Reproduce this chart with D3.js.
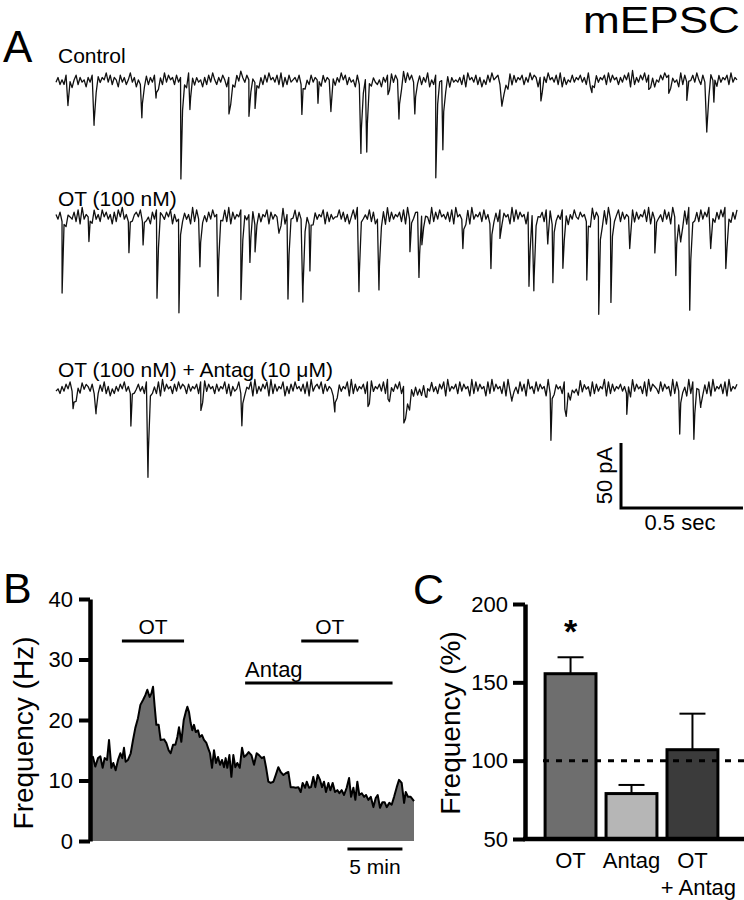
<!DOCTYPE html>
<html>
<head>
<meta charset="utf-8">
<script src="https://cdn.jsdelivr.net/npm/d3@7"></script>
<style>
  body { margin: 0; background: #fff; }
  svg { display: block; }
  text { font-family: "Liberation Sans", Arial, Helvetica, sans-serif; fill: #000; }
</style>
</head>
<body>
<svg id="fig" width="744" height="900"></svg>
<script>
// ---------- data ----------
// panel A: recordings, 2.8 s each
const traceLabels = ["Control", "OT (100 nM)", "OT (100 nM) + Antag (10 \u03bcM)"];
const traceSeconds = 2.8;
// minis as [time s, amplitude pA, decay s (optional)]
const controlEvents = [
  [0.049, 18], [0.156, 35], [0.352, 31], [0.41, 14], [0.512, 78], [0.549, 21],
  [0.709, 28, 0.012], [0.791, 28], [0.816, 20], [1.008, 23], [1.074, 18], [1.127, 19],
  [1.25, 62], [1.274, 55], [1.361, 15], [1.406, 32], [1.471, 28], [1.557, 79],
  [1.586, 59], [1.828, 22, 0.01], [1.988, 18], [2.197, 17], [2.43, 11], [2.512, 14],
  [2.586, 14], [2.668, 42], [2.697, 17]
];
const otEvents = [
  [0.025, 55], [0.135, 19], [0.299, 24], [0.357, 18], [0.414, 68], [0.504, 72],
  [0.59, 42], [0.664, 61], [0.758, 69], [0.795, 35], [0.816, 21], [0.914, 18],
  [0.951, 65], [1.012, 71], [1.041, 36], [1.242, 54], [1.324, 58], [1.451, 25],
  [1.488, 43], [1.5, 23], [1.668, 28], [1.783, 47], [1.82, 22], [1.939, 57],
  [1.959, 54], [2.016, 19], [2.037, 45], [2.078, 45], [2.176, 45], [2.225, 75],
  [2.275, 64], [2.352, 19], [2.455, 26], [2.541, 47], [2.561, 22], [2.598, 79],
  [2.684, 19], [2.746, 47]
];
const antagEvents = [
  [0.07, 17, 0.012], [0.164, 21], [0.307, 25], [0.377, 68], [0.594, 22], [0.762, 32],
  [1.143, 25], [1.279, 19], [1.361, 15], [1.426, 28, 0.025], [1.52, 13], [1.869, 13],
  [2.029, 36], [2.086, 21, 0.02], [2.34, 16], [2.557, 33], [2.615, 37], [2.643, 16]
];
// baseline noise, one digit every 1/340 of the sweep (digit 0..9 -> about -8..+8 pA)
const controlNoise =
  "46353746257364526475" + "37465847365274635846" + "25364736475263847563" +
  "74635284736452637485" + "36475263748596475364" + "52637485647382637456" +
  "47362537465837465273" + "64857364527384657364" + "35264738475639485746" +
  "57364825374658372645" + "46372856473625374856" + "73645283746573648576" +
  "26374856473826354746" + "57463829374657384756" + "36475829364758473625" +
  "47586736452837465748" + "53746285937465738465";
const otNoise =
  "64738265473829465738" + "46385746273859463746" + "75836452748396475826" +
  "34857462938475637485" + "65748392746583746592" + "47365827465839264758" +
  "37485629374658273645" + "58473625849375648372" + "46582937465738294657" +
  "73846529374856473829" + "56473829465738462957" + "38475629384756273846" +
  "65738492756483726485" + "47563829475638294756" + "83746529374658392746" +
  "56384729564738295647" + "38475926374859263748";
const antagNoise =
  "45364758463748576473" + "65748362536475846374" + "57463857463829475637" +
  "48576374657382947563" + "74658372645837465829" + "36475829374658263748" +
  "56473829467583746529" + "37465829374657382946" + "57483926475836472958" +
  "46372958463758294657" + "38475629384756283947" + "56382947563847295638" +
  "47562938475638294756" + "39475628374659283746" + "57463829475638294765" +
  "38475629384756293847" + "56473829465738294657";

// panel B: frequency time course (minutes, Hz)
const bMinutes = [0, 0.27, 0.48, 0.73, 0.94, 1.15, 1.33, 1.55, 1.73, 1.94, 2.12, 2.33, 2.55, 2.76, 2.94, 3.09,
  3.24, 3.45, 3.70, 3.91, 4.12, 4.36, 4.58, 4.82, 5.03, 5.21, 5.42, 5.58, 5.73, 5.88, 6.03, 6.24, 6.42, 6.73,
  6.94, 7.15, 7.33, 7.55, 7.76, 7.94, 8.09, 8.30, 8.52, 8.70, 8.85, 9.00, 9.15, 9.30, 9.45, 9.61, 9.82, 9.97,
  10.18, 10.36, 10.58, 10.73, 10.91, 11.09, 11.27, 11.45, 11.64, 11.82, 12.00, 12.18, 12.33, 12.48, 12.67,
  12.85, 13.03, 13.21, 13.39, 13.61, 13.82, 14.00, 14.21, 14.42, 14.67, 14.91, 15.15, 15.36, 15.61, 15.82,
  16.00, 16.21, 16.42, 16.67, 16.88, 17.12, 17.33, 17.58, 17.79, 18.03, 18.24, 18.48, 18.70, 18.94, 19.15,
  19.33, 19.55, 19.70, 19.91, 20.09, 20.30, 20.48, 20.70, 20.91, 21.09, 21.27, 21.45, 21.67, 21.85, 22.06,
  22.27, 22.48, 22.67, 22.88, 23.09, 23.33, 23.55, 23.73, 23.94, 24.12, 24.30, 24.48, 24.70, 24.91, 25.09,
  25.30, 25.52, 25.76, 25.97, 26.15, 26.36, 26.58, 26.79, 26.97, 27.21, 27.42, 27.64, 27.88, 28.09, 28.33,
  28.55, 28.70, 28.91, 29.15, 29.45];
const bHz = [13.6, 13.9, 12.3, 13.7, 14.0, 12.1, 13.7, 13.4, 16.7, 12.1, 12.9, 11.7, 13.4, 14.5, 13.7, 15.4,
  13.1, 13.4, 14.5, 16.7, 18.7, 20.3, 22.5, 23.3, 24.1, 25.0, 23.8, 24.4, 25.5, 22.2, 19.2, 19.2, 16.7, 16.8,
  16.2, 15.0, 14.5, 15.9, 15.9, 17.2, 18.8, 16.4, 20.0, 21.3, 22.2, 21.3, 19.5, 18.3, 19.2, 18.0, 18.3, 17.2,
  17.5, 16.7, 16.2, 15.4, 14.5, 12.1, 15.0, 12.9, 13.9, 12.6, 13.4, 12.2, 13.7, 12.1, 14.2, 10.6, 14.2, 12.2,
  12.9, 12.1, 15.4, 13.9, 14.2, 14.7, 14.2, 12.6, 14.5, 14.2, 13.7, 13.9, 12.2, 9.8, 9.6, 9.8, 10.9, 12.2,
  11.4, 10.9, 11.2, 11.4, 8.9, 8.9, 8.8, 8.9, 8.1, 9.6, 8.8, 9.8, 8.8, 8.9, 10.6, 8.9, 10.9, 10.1, 8.9, 9.8,
  8.1, 9.6, 8.4, 9.6, 8.1, 8.4, 7.9, 8.4, 7.6, 8.8, 10.4, 7.3, 8.8, 6.8, 9.8, 7.6, 7.9, 7.3, 7.6, 6.8, 7.3,
  5.6, 7.1, 7.6, 5.5, 6.4, 6.4, 5.6, 6.3, 6.0, 7.3, 8.9, 10.1, 9.6, 6.3, 8.1, 7.3, 7.3, 6.6];
const bTicks = [0, 10, 20, 30, 40];
// drug application bars [start min, end min, label, row]
const bDrugs = [[2.9, 8.55, "OT", 1], [19.2, 24.4, "OT", 1], [14.1, 27.5, "Antag", 2]];

// panel C: normalised frequency
const cLabels = [["OT"], ["Antag"], ["OT", "+ Antag"]];
const cMean = [155.5, 79, 107];
const cSem = [10.5, 5.5, 23];
const cFill = ["#6e6e6e", "#b6b6b6", "#3b3b3b"];
const cTicks = [50, 100, 150, 200];

// ---------- drawing ----------
const svg = d3.select("#fig");

const addText = (g, x, y, str, size, anchor) => g.append("text")
  .attr("x", x).attr("y", y)
  .attr("font-size", size)
  .attr("text-anchor", anchor || "start")
  .text(str);

// panel letters + title
addText(svg, 3, 62, "A", 44);
addText(svg, 3, 603, "B", 43);
addText(svg, 413, 604, "C", 43);
addText(svg, 583, 33, "mEPSC", 36).attr("textLength", 157).attr("lengthAdjust", "spacingAndGlyphs");

// ----- A: traces -----
const xT = d3.scaleLinear().domain([0, traceSeconds]).range([56, 739]);
const pxPerPA = 1.3;
const traces = [
  { label: traceLabels[0], noise: controlNoise, events: controlEvents, base: 81, ly: 63 },
  { label: traceLabels[1], noise: otNoise, events: otEvents, base: 218, ly: 206 },
  { label: traceLabels[2], noise: antagNoise, events: antagEvents, base: 390, ly: 377 }
];

function tracePoints(noise, events) {
  const n = noise.length;
  const dt = traceSeconds / n;
  const baseAt = i => (+noise[i] - 4.5) * 1.8;
  const ev = t => d3.sum(events, e => t >= e[0] ? -e[1] * Math.exp(-(t - e[0]) / (e[2] || 0.005)) : 0);
  const pts = [];
  for (let i = 0; i < n; i++) pts.push([i * dt, baseAt(i) + ev(i * dt)]);
  events.forEach(e => {
    const i = Math.min(n - 1, Math.round(e[0] / dt));
    pts.push([e[0], baseAt(i) + ev(e[0])]);
  });
  return pts.sort((a, b) => a[0] - b[0]);
}

traces.forEach(tr => {
  const y = d3.scaleLinear().domain([-100, 20]).range([tr.base + 100 * pxPerPA, tr.base - 20 * pxPerPA]);
  const line = d3.line().x(d => xT(d[0])).y(d => y(d[1]));
  svg.append("path")
    .datum(tracePoints(tr.noise, tr.events))
    .attr("d", line)
    .attr("fill", "none")
    .attr("stroke", "#111")
    .attr("stroke-width", 1.3)
    .attr("stroke-linejoin", "round");
  addText(svg, 58, tr.ly, tr.label, 21);
});

// scale bar 50 pA / 0.5 s
const sbX = 621, sbY = 508;
const sbW = xT(0.5) - xT(0), sbH = 50 * pxPerPA;
svg.append("path")
  .attr("d", `M${sbX},${sbY - sbH}V${sbY}H${sbX + sbW}`)
  .attr("fill", "none").attr("stroke", "#000").attr("stroke-width", 3);
addText(svg, sbX + sbW / 2 - 2, 530, "0.5 sec", 22, "middle");
addText(svg, 0, 0, "50 pA", 22, "middle").attr("transform", `translate(612,${sbY - sbH / 2}) rotate(-90)`);

// ----- B: time course -----
const xB = d3.scaleLinear().domain([0, 29.45]).range([90, 414]);
const yB = d3.scaleLinear().domain([0, 40]).range([841, 599]);
const bData = bMinutes.map((m, i) => [m, bHz[i]]);

svg.append("path")
  .datum(bData)
  .attr("d", d3.area().x(d => xB(d[0])).y0(yB(0)).y1(d => yB(d[1])))
  .attr("fill", "#6e6e6e");
svg.append("path")
  .datum(bData)
  .attr("d", d3.line().x(d => xB(d[0])).y(d => yB(d[1])))
  .attr("fill", "none").attr("stroke", "#000").attr("stroke-width", 2).attr("stroke-linejoin", "round");

const axB = svg.append("g")
  .attr("transform", "translate(90,0)")
  .call(d3.axisLeft(yB).tickValues(bTicks).tickSize(11).tickSizeOuter(0).tickPadding(6));
axB.select(".domain").attr("stroke-width", 4.5);
axB.selectAll(".tick line").attr("stroke-width", 4);
axB.selectAll(".tick text").attr("font-size", 22).attr("font-family", null).attr("fill", "#000");

addText(svg, 0, 0, "Frequency (Hz)", 28, "middle").attr("transform", "translate(33,733) rotate(-90)");

bDrugs.forEach(d => {
  const yy = d[3] === 1 ? 641 : 683;
  svg.append("line")
    .attr("x1", xB(d[0])).attr("x2", xB(d[1]))
    .attr("y1", yy).attr("y2", yy)
    .attr("stroke", "#000").attr("stroke-width", 3);
  if (d[3] === 1) addText(svg, (xB(d[0]) + xB(d[1])) / 2, 634, d[2], 21, "middle");
  else addText(svg, xB(d[0]), 677, d[2], 22);
});

// 5 min scale bar
svg.append("line")
  .attr("x1", xB(23.4)).attr("x2", xB(23.4) + (xB(5) - xB(0)))
  .attr("y1", 849).attr("y2", 849)
  .attr("stroke", "#000").attr("stroke-width", 3);
addText(svg, xB(23.4) + (xB(5) - xB(0)) / 2, 874, "5 min", 21, "middle");

// ----- C: bar chart -----
const yC = d3.scaleLinear().domain([50, 200]).range([839, 604]);
const xC = d3.scaleBand().domain(d3.range(cMean.length)).range([539, 724]).paddingInner(0.165).paddingOuter(0.1);

const bars = svg.append("g");
cMean.forEach((m, i) => {
  const cx = xC(i) + xC.bandwidth() / 2;
  bars.append("line")
    .attr("x1", cx).attr("x2", cx)
    .attr("y1", yC(m)).attr("y2", yC(m + cSem[i]))
    .attr("stroke", "#000").attr("stroke-width", 2);
  bars.append("line")
    .attr("x1", cx - 13).attr("x2", cx + 13)
    .attr("y1", yC(m + cSem[i])).attr("y2", yC(m + cSem[i]))
    .attr("stroke", "#000").attr("stroke-width", 2);
  bars.append("rect")
    .attr("x", xC(i)).attr("y", yC(m))
    .attr("width", xC.bandwidth()).attr("height", yC(50) - yC(m))
    .attr("fill", cFill[i]).attr("stroke", "#000").attr("stroke-width", 3);
  cLabels[i].forEach((s, k) => addText(svg, cx + (k ? 6 : 0), 868 + k * 27, s, 22, "middle"));
});

// reference line at 100 %
svg.append("line")
  .attr("x1", 543).attr("x2", 744)
  .attr("y1", yC(100)).attr("y2", yC(100))
  .attr("stroke", "#000").attr("stroke-width", 3).attr("stroke-dasharray", "6,7");

svg.append("line")
  .attr("x1", 523).attr("x2", 744)
  .attr("y1", yC(50)).attr("y2", yC(50))
  .attr("stroke", "#000").attr("stroke-width", 4.5);

const axC = svg.append("g")
  .attr("transform", "translate(525,0)")
  .call(d3.axisLeft(yC).tickValues(cTicks).tickSize(12).tickSizeOuter(0).tickPadding(5));
axC.select(".domain").attr("stroke-width", 4.5);
axC.selectAll(".tick line").attr("stroke-width", 4);
axC.selectAll(".tick text").attr("font-size", 22).attr("font-family", null).attr("fill", "#000");

addText(svg, 0, 0, "Frequency (%)", 28, "middle").attr("transform", "translate(460,723) rotate(-90)");

// significance mark
addText(svg, xC(0) + xC.bandwidth() / 2, 643, "*", 34, "middle").attr("font-weight", "bold");
</script>
</body>
</html>
